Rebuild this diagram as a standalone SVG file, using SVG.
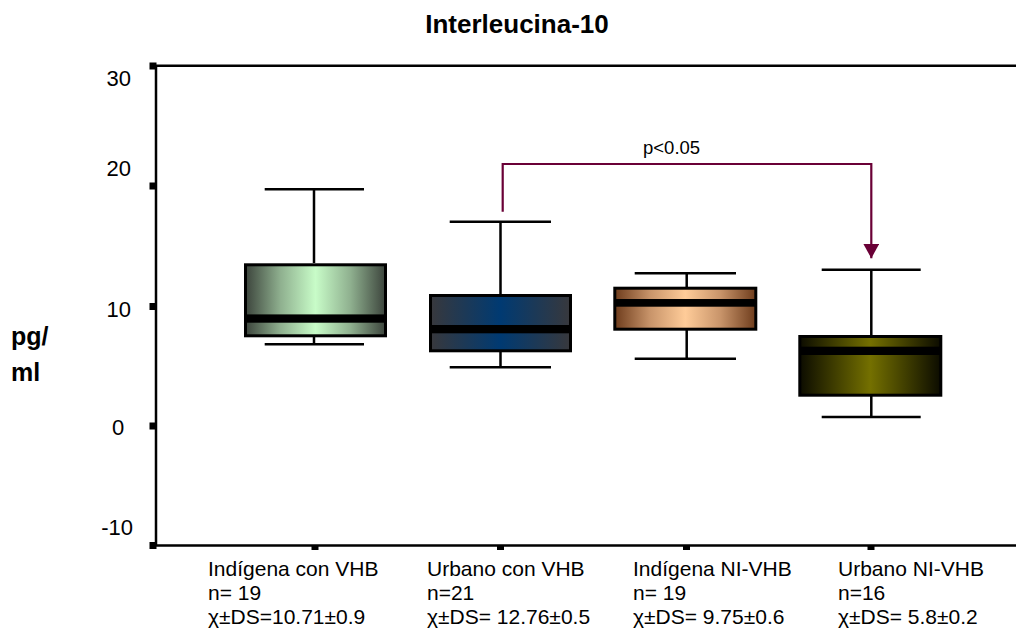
<svg xmlns="http://www.w3.org/2000/svg" width="1016" height="628" viewBox="0 0 1016 628">
<style>
text{font-family:"Liberation Sans",Arial,sans-serif;fill:#000}
.ax{stroke:#000;stroke-width:2.5;fill:none}
.wh{stroke:#000;stroke-width:2.5;fill:none}
.box{stroke:#000;stroke-width:3}
.lab{font-size:21px}
.yl{font-size:22px}
</style>
<defs>
<linearGradient id="gGreen" x1="0" y1="0" x2="1" y2="0">
<stop offset="0" stop-color="#3c443c"/><stop offset="0.25" stop-color="#8fb08f"/><stop offset="0.5" stop-color="#c8fcc8"/><stop offset="0.75" stop-color="#8fb08f"/><stop offset="1" stop-color="#3c443c"/>
</linearGradient>
<linearGradient id="gNavy" x1="0" y1="0" x2="1" y2="0">
<stop offset="0" stop-color="#38383c"/><stop offset="0.5" stop-color="#003a72"/><stop offset="1" stop-color="#38383c"/>
</linearGradient>
<linearGradient id="gPeach" x1="0" y1="0" x2="1" y2="0">
<stop offset="0" stop-color="#6e3c1c"/><stop offset="0.25" stop-color="#c8946a"/><stop offset="0.5" stop-color="#ffcc99"/><stop offset="0.75" stop-color="#c8946a"/><stop offset="1" stop-color="#6e3c1c"/>
</linearGradient>
<linearGradient id="gOlive" x1="0" y1="0" x2="1" y2="0">
<stop offset="0" stop-color="#0c0c00"/><stop offset="0.5" stop-color="#747000"/><stop offset="1" stop-color="#0c0c00"/>
</linearGradient>
<marker id="arr" markerUnits="userSpaceOnUse" markerWidth="15" markerHeight="16" refX="14.5" refY="8" orient="auto" viewBox="0 0 15 16">
<polygon points="0,0 14.5,8 0,16" fill="#6a0036"/>
</marker>
</defs>

<text x="517" y="33" font-size="26" font-weight="bold" text-anchor="middle">Interleucina-10</text>

<g id="axes">
<path class="ax" d="M156 65.7 H1016 M156 65.7 V545.5 M150 545.5 H1016"/>
<g fill="#000">
<rect x="149.5" y="62.5" width="7" height="7"/>
<rect x="149.5" y="182.5" width="7" height="7"/>
<rect x="149.5" y="303" width="7" height="7"/>
<rect x="149.5" y="422.5" width="7" height="7"/>
<rect x="149.5" y="542" width="7" height="7"/>
<rect x="311.5" y="545" width="7" height="5"/>
<rect x="497" y="545" width="7" height="5"/>
<rect x="683" y="545" width="7" height="5"/>
<rect x="867.5" y="545" width="7" height="5"/>
</g>
<text class="yl" x="131" y="86" text-anchor="end">30</text>
<text class="yl" x="131" y="176" text-anchor="end">20</text>
<text class="yl" x="131" y="317" text-anchor="end">10</text>
<text class="yl" x="112" y="435">0</text>
<text class="yl" x="133" y="535" text-anchor="end">-10</text>
<text x="11" y="345" font-size="25" font-weight="bold">pg/</text>
<text x="11" y="381" font-size="25" font-weight="bold">ml</text>
</g>

<g id="box-indigena-vhb">
<path class="wh" d="M264.7 189.3 H364 M314 189.3 V263 M314 337 V344.3 M264.7 344.3 H364"/>
<rect class="box" x="245.5" y="264.8" width="140" height="71" fill="url(#gGreen)"/>
<rect x="245" y="314.4" width="141" height="8.3" fill="#000"/>
</g>

<g id="box-urbano-vhb">
<path class="wh" d="M449.7 221.7 H551 M500.5 221.7 V294 M500.5 352 V367.3 M449.7 367.3 H551"/>
<rect class="box" x="430.5" y="295.5" width="140" height="55.3" fill="url(#gNavy)"/>
<rect x="430" y="325" width="141" height="8.3" fill="#000"/>
</g>

<g id="box-indigena-ni-vhb">
<path class="wh" d="M634.7 273.3 H736 M686.7 273.3 V287 M686.7 330 V358.7 M634.7 358.7 H736"/>
<rect class="box" x="614.8" y="288.2" width="141" height="41" fill="url(#gPeach)"/>
<rect x="614.3" y="299" width="142" height="7.7" fill="#000"/>
</g>

<g id="box-urbano-ni-vhb">
<path class="wh" d="M821.7 269.7 H920.7 M871.3 269.7 V335 M871.3 396 V417 M821.7 417 H920.7"/>
<rect class="box" x="799.8" y="336.5" width="141" height="58.7" fill="url(#gOlive)"/>
<rect x="799.3" y="346.7" width="142" height="8.3" fill="#000"/>
</g>

<g id="connectors">
<path d="M502.7 211.7 V164 H871.3 V258.3" fill="none" stroke="#6a0036" stroke-width="2.2" marker-end="url(#arr)"/>
<text x="643" y="154" font-size="18.5">p&lt;0.05</text>
</g>

<g id="labels">
<text class="lab" x="208" y="576">Indígena con VHB</text>
<text class="lab" x="208" y="600">n= 19</text>
<text class="lab" x="208" y="623.5">χ±DS=10.71±0.9</text>
<text class="lab" x="427" y="576">Urbano con VHB</text>
<text class="lab" x="427" y="600">n=21</text>
<text class="lab" x="427" y="623.5">χ±DS= 12.76±0.5</text>
<text class="lab" x="633" y="576">Indígena NI-VHB</text>
<text class="lab" x="633" y="600">n= 19</text>
<text class="lab" x="633" y="623.5">χ±DS= 9.75±0.6</text>
<text class="lab" x="838" y="576">Urbano NI-VHB</text>
<text class="lab" x="838" y="600">n=16</text>
<text class="lab" x="838" y="623.5">χ±DS= 5.8±0.2</text>
</g>
</svg>
